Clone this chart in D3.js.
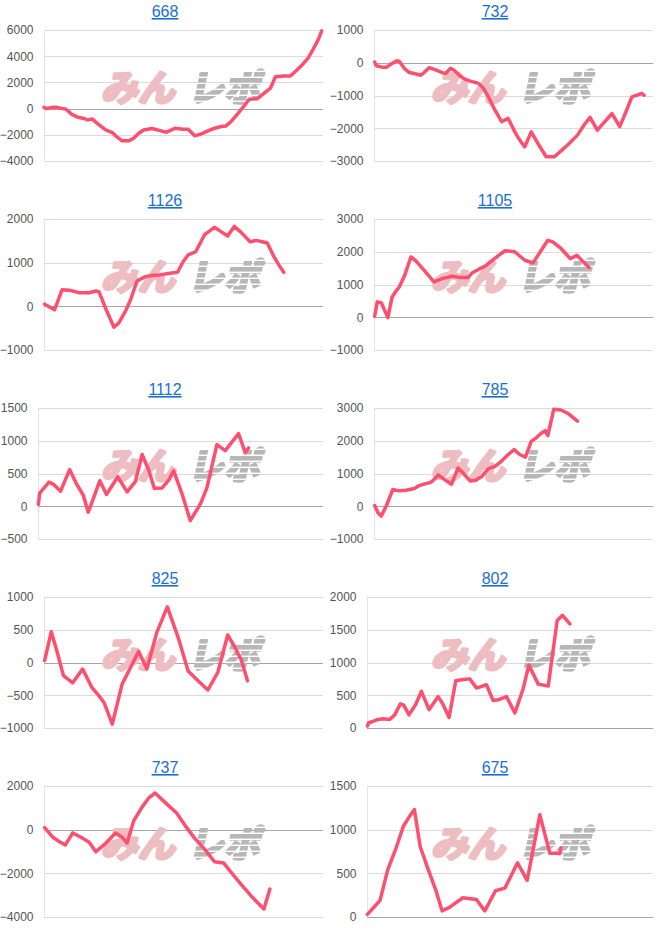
<!DOCTYPE html>
<html><head><meta charset="utf-8">
<script src="https://cdn.jsdelivr.net/npm/d3@7"></script>
<style>body{margin:0;background:#fff} svg{display:block}</style>
</head><body><svg id="c" width="660" height="945"></svg>
<script>
const titles = ["668","732","1126","1105","1112","785","825","802","737","675"];

const d668 = [0,0.25,0.96,1.31,2.02,2.38,2.91,3.62,4.33,4.68,5.21,5.92,6.63,7.34,7.87,8.40,9.11,9.65,10.18,10.71,11.60,12.48,13.19,14.08,14.96,15.50,16.21,16.91,17.62,18.33,19.04,19.57,20.11,20.82,21.52,22.06,22.94,23.65,24.36,24.89,25.78,26.49,27.20,27.91,28.44,28.97,29.50,29.86];
const v668 = [100,0,100,100,0,-50,-400,-660,-760,-860,-800,-1250,-1630,-1830,-2180,-2460,-2460,-2260,-1880,-1630,-1520,-1680,-1800,-1500,-1580,-1580,-2080,-1930,-1700,-1500,-1370,-1320,-990,-400,200,710,760,1170,1570,2440,2490,2490,2950,3450,3900,4570,5280,5940];
const t668 = [-4000,-2000,0,2000,4000,6000];

const d732 = [0.07,0.25,0.96,1.31,1.84,2.45,2.73,3.26,3.79,4.33,5.04,5.39,5.92,6.63,7.34,7.70,8.23,8.58,9.29,9.82,10.35,11.24,11.77,12.30,13.01,13.72,14.43,15.14,15.67,16.21,16.91,17.62,18.51,19.40,20.11,20.82,21.88,22.59,23.23,24.01,24.72,25.60,26.42,27.02,27.73,28.26,28.79,29.04];
const v732 = [20,-90,-140,-140,-40,60,40,-170,-300,-330,-380,-300,-150,-220,-300,-330,-170,-220,-410,-510,-560,-630,-780,-1040,-1450,-1800,-1700,-2110,-2360,-2570,-2110,-2460,-2870,-2870,-2690,-2510,-2210,-1900,-1670,-2060,-1830,-1550,-1950,-1550,-1040,-990,-940,-990];
const t732 = [-3000,-2000,-1000,0,1000];

const d1126 = [0.07,1.13,1.95,2.73,3.79,4.86,5.57,5.92,6.63,7.52,8.05,8.76,9.29,10.0,10.89,11.77,12.48,13.37,14.36,14.96,15.50,16.31,17.27,18.33,19.04,19.75,20.46,21.17,22.16,22.77,23.48,24.01,24.72,25.25,25.78];
const v1126 = [50,-80,380,370,310,310,350,330,-50,-480,-380,-110,140,580,680,710,720,750,780,1020,1180,1250,1640,1810,1710,1610,1830,1700,1480,1510,1480,1450,1140,950,780];
const t1126 = [-1000,0,1000,2000];

const d1105 = [0.07,0.35,0.78,1.49,1.95,2.30,2.73,3.26,3.97,4.50,5.21,6.45,7.34,8.40,9.29,10.11,10.53,11.24,11.95,12.66,13.37,14.08,15.14,15.67,16.21,17.09,17.80,18.69,19.22,20.11,21.10,21.81,22.41,23.12];
const v1105 = [30,470,440,-10,620,770,930,1250,1840,1720,1490,1080,1180,1250,1210,1210,1350,1460,1560,1720,1880,2030,2000,1870,1740,1660,1960,2350,2300,2100,1790,1890,1720,1520];
const t1105 = [-1000,0,1000,2000,3000];

const d1112 = [0.04,0.18,1.16,1.68,2.38,3.33,4.06,4.76,5.29,5.88,6.51,7.21,8.40,9.38,10.26,10.96,11.66,12.25,13.06,13.76,14.28,15.16,16.03,17.08,17.78,18.83,19.71,20.41,21.11,21.81,22.16];
const v1112 = [30,200,370,330,230,560,340,170,-90,140,390,180,450,220,380,790,550,270,280,400,540,190,-220,30,280,940,850,980,1110,820,890];
const t1112 = [-500,0,500,1000,1500];

const d785 = [0.07,0.43,0.78,1.31,2.02,2.73,3.44,4.33,4.86,5.57,6.10,6.45,6.91,7.70,8.33,9.04,9.65,10.35,10.89,11.60,12.30,13.01,13.72,14.43,15.07,15.67,16.28,16.91,17.45,17.98,18.40,18.69,19.33,20.11,20.82,21.35,21.88];
const v785 = [20,-200,-300,0,510,470,490,540,630,690,730,810,960,790,670,1170,990,770,790,910,1150,1220,1380,1580,1730,1580,1500,1980,2090,2230,2310,2160,2960,2940,2840,2720,2600];
const t785 = [-1000,0,1000,2000,3000];

const d825 = [0.07,0.78,1.38,2.09,3.09,4.15,5.14,5.92,6.45,7.34,8.40,9.29,10.18,11.06,12.13,13.26,14.43,15.50,16.56,17.62,18.69,19.75,20.46,21.24,21.88];
const v825 = [30,470,180,-200,-310,-100,-380,-510,-610,-940,-330,-80,170,-100,460,850,380,-130,-280,-420,-150,420,250,30,-280];
const t825 = [-1000,-500,0,500,1000];

const d802 = [0.04,0.18,0.63,1.16,1.68,2.38,2.91,3.50,3.85,4.41,5.11,5.71,6.51,7.46,7.98,8.61,9.31,10.08,10.78,11.48,12.53,13.23,13.76,14.63,15.51,16.38,16.98,17.96,19.01,19.95,20.51,21.28];
const v802 = [30,80,100,130,140,130,200,370,350,200,360,560,280,480,360,160,720,740,750,610,660,420,430,480,230,600,960,670,640,1640,1720,1590];
const t802 = [0,500,1000,1500,2000];

const d737 = [0.07,0.96,1.67,2.30,3.09,3.97,4.86,5.57,6.45,7.70,8.40,8.94,9.65,10.53,11.24,11.95,13.01,14.26,15.14,16.21,17.27,18.33,19.33,20.11,21.17,22.41,23.65,24.29];
const v737 = [90,-350,-550,-700,-150,-350,-580,-1010,-700,-150,-350,-610,410,1020,1440,1680,1250,760,210,-400,-890,-1470,-1530,-1950,-2490,-3100,-3630,-2720];
const t737 = [-4000,-2000,0,2000];

const d675 = [0.04,0.63,1.37,2.17,3.05,3.82,4.45,4.97,5.57,6.37,7.18,7.88,8.65,10.05,11.48,12.36,13.48,14.46,15.79,16.80,18.13,19.18,20.23,20.34];
const v675 = [30,100,190,540,790,1040,1150,1230,810,560,320,70,110,220,200,70,300,330,620,420,1170,730,730,790];
const t675 = [0,500,1000,1500];

const panels = [
  {title: titles[0], days: d668, vals: v668, ticks: t668},
  {title: titles[1], days: d732, vals: v732, ticks: t732},
  {title: titles[2], days: d1126, vals: v1126, ticks: t1126},
  {title: titles[3], days: d1105, vals: v1105, ticks: t1105},
  {title: titles[4], days: d1112, vals: v1112, ticks: t1112},
  {title: titles[5], days: d785, vals: v785, ticks: t785},
  {title: titles[6], days: d825, vals: v825, ticks: t825},
  {title: titles[7], days: d802, vals: v802, ticks: t802},
  {title: titles[8], days: d737, vals: v737, ticks: t737},
  {title: titles[9], days: d675, vals: v675, ticks: t675}
];

const FONT = "Arial, 'Liberation Sans', sans-serif";
const svg = d3.select("#c");

// stripe mask for the grey half of the watermark
const defs = svg.append("defs");
const pat = defs.append("pattern").attr("id", "stripes")
  .attr("patternUnits", "userSpaceOnUse").attr("width", 8).attr("height", 6);
pat.append("rect").attr("width", 8).attr("height", 6).attr("fill", "#fff");
pat.append("rect").attr("y", 4.6).attr("width", 8).attr("height", 1.4).attr("fill", "#000");
const mask = defs.append("mask").attr("id", "stripeMask").attr("maskUnits", "userSpaceOnUse")
  .attr("x", 0).attr("y", 0).attr("width", 660).attr("height", 945);
mask.append("rect").attr("width", 660).attr("height", 945).attr("fill", "url(#stripes)");

panels.forEach((p, i) => {
  const col = i % 2, row = Math.floor(i / 2);
  const g = svg.append("g").attr("transform", `translate(${col * 330},${row * 189})`);

  let maxW = 0;
  p.ticks.forEach(t => {
    const n = g.append("text").attr("font-family", FONT).attr("font-size", 12).text(d3.format("d")(t));
    maxW = Math.max(maxW, n.node().getComputedTextLength());
    n.remove();
  });
  const left = Math.round(maxW + 10.5);
  const right = 323, top = 30, bottom = 161;

  const x = d3.scaleLinear().domain([0, 30]).range([left, right]);
  const y = d3.scaleLinear().domain(d3.extent(p.ticks)).range([bottom, top]);

  g.append("text")
    .attr("x", 165).attr("y", 17)
    .attr("text-anchor", "middle")
    .attr("font-family", FONT).attr("font-size", 16)
    .attr("fill", "#1a6fd6")
    .style("text-decoration", "underline")
    .text(p.title);

  g.append("line").attr("x1", left + 0.5).attr("x2", left + 0.5)
    .attr("y1", top).attr("y2", bottom).attr("stroke", "#e4e4e4");

  g.append("g").selectAll("line").data(p.ticks).join("line")
    .attr("x1", left).attr("x2", right)
    .attr("y1", d => Math.round(y(d)) + 0.5).attr("y2", d => Math.round(y(d)) + 0.5)
    .attr("stroke", d => d === 0 ? "#a6a6a6" : "#dcdcdc");

  const ax = g.append("g").attr("transform", `translate(${left},0)`)
    .call(d3.axisLeft(y).tickValues(p.ticks).tickSize(0).tickPadding(10.5).tickFormat(d3.format("d")));
  ax.select(".domain").remove();
  ax.selectAll("text").attr("font-family", FONT).attr("font-size", 12).attr("fill", "#555");

  // watermark logo
  const logo = g.append("g");
  logo.append("text")
    .attr("transform", "translate(101,101) skewX(-12)")
    .attr("font-family", "'Noto Sans CJK JP', sans-serif").attr("font-weight", 700)
    .attr("font-size", 36).attr("textLength", 74).attr("lengthAdjust", "spacingAndGlyphs")
    .attr("fill", "#edbdc1").attr("stroke", "#edbdc1").attr("stroke-width", 3.2)
    .attr("stroke-linejoin", "round")
    .text("みん");
  const grey = logo.append("g").attr("mask", "url(#stripeMask)");
  grey.append("text")
    .attr("transform", "translate(188,101) skewX(-12)")
    .attr("font-family", "'Noto Sans CJK JP', sans-serif").attr("font-weight", 700)
    .attr("font-size", 36).attr("textLength", 72).attr("lengthAdjust", "spacingAndGlyphs")
    .attr("fill", "#b7b7b7").attr("stroke", "#b7b7b7").attr("stroke-width", 3.2)
    .attr("stroke-linejoin", "round")
    .text("レポ");

  const pts = p.days.map((d, k) => [d, p.vals[k]]);
  g.append("path").datum(pts)
    .attr("d", d3.line().x(d => x(d[0])).y(d => y(d[1])))
    .attr("fill", "none").attr("stroke", "#ff4f6f")
    .attr("stroke-width", 3.5).attr("stroke-linejoin", "round").attr("stroke-linecap", "round");
});
</script>
</body></html>
